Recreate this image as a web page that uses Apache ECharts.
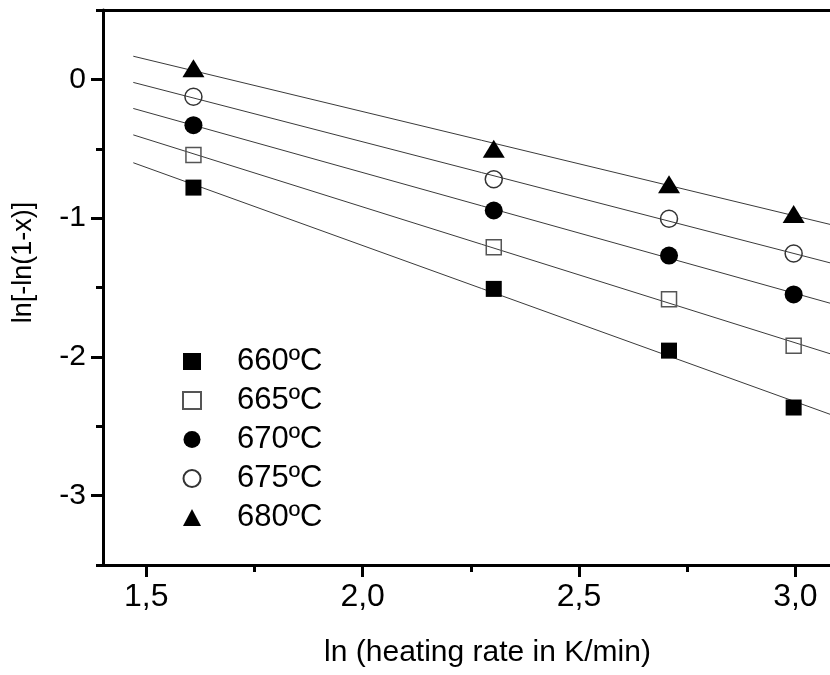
<!DOCTYPE html>
<html>
<head>
<meta charset="utf-8">
<script src="https://cdn.jsdelivr.net/npm/echarts@6/dist/echarts.min.js"></script>
<style>
html,body{margin:0;padding:0;background:#fff;}
#chart{width:830px;height:675px;}
</style>
</head>
<body>
<div id="chart"></div>
<script>
// ---- data ----
var xValues = [1.609, 2.303, 2.708, 2.996];           // ln(5), ln(10), ln(15), ln(20)
var seriesNames = ['660ºC', '665ºC', '670ºC', '675ºC', '680ºC'];
var y660 = [-0.78, -1.51, -1.955, -2.365];
var y665 = [-0.545, -1.21, -1.585, -1.92];
var y670 = [-0.33, -0.945, -1.27, -1.55];
var y675 = [-0.125, -0.72, -1.005, -1.255];
var y680 = [0.08, -0.50, -0.755, -0.97];
var xMajorTicks = [1.5, 2.0, 2.5, 3.0];
var xMinorTicks = [1.75, 2.25, 2.75];
var yMajorTicks = [0, -1, -2, -3];
var yMinorTicks = [0.5, -0.5, -1.5, -2.5, -3.5];
var fitRange = [1.47, 3.08];

var allY = [y660, y665, y670, y675, y680];

function fit(xs, ys) {
  var n = xs.length, sx = 0, sy = 0, sxx = 0, sxy = 0;
  for (var i = 0; i < n; i++) { sx += xs[i]; sy += ys[i]; sxx += xs[i]*xs[i]; sxy += xs[i]*ys[i]; }
  var b = (n*sxy - sx*sy) / (n*sxx - sx*sx);
  var a = (sy - b*sx) / n;
  return {a: a, b: b};
}

var FONT = '"Liberation Sans", Arial, Helvetica, sans-serif';
var symbols = [
  {symbol: 'rect', size: 16, style: {color: '#000', opacity: 1}},
  {symbol: 'rect', size: 15, style: {color: 'rgba(255,255,255,0)', borderColor: '#555', borderWidth: 1.5, opacity: 1}},
  {symbol: 'circle', size: 18, style: {color: '#000', opacity: 1}},
  {symbol: 'circle', size: 17, style: {color: 'rgba(255,255,255,0)', borderColor: '#333', borderWidth: 1.5, opacity: 1}},
  {symbol: 'triangle', size: [22, 18], style: {color: '#000', opacity: 1}}
];

var series = [];
allY.forEach(function (ys, k) {
  var f = fit(xValues, ys);
  series.push({
    type: 'line',
    name: seriesNames[k] + ' fit',
    data: fitRange.map(function (x) { return [x, f.a + f.b * x]; }),
    showSymbol: false,
    symbol: 'none',
    silent: true,
    lineStyle: {color: '#3a3a3a', width: 1},
    z: 2
  });
});
allY.forEach(function (ys, k) {
  series.push({
    type: 'scatter',
    name: seriesNames[k],
    data: xValues.map(function (x, i) { return [x, ys[i]]; }),
    symbol: symbols[k].symbol,
    symbolSize: symbols[k].size,
    itemStyle: symbols[k].style,
    z: 3
  });
});

var fmt = function (v) { return (Math.round(v * 10) / 10).toFixed(1).replace('.', ','); };

var grid = {left: 103, top: 10, right: 0, height: 555, containLabel: false};

var option = {
  animation: false,
  backgroundColor: '#fff',
  grid: grid,
  legend: {
    data: seriesNames,
    orient: 'vertical',
    left: 177,
    top: 341,
    itemWidth: 18,
    itemHeight: 17,
    itemGap: 8,
    textStyle: {fontFamily: FONT, fontSize: 31, color: '#000', padding: [0, 0, 0, 31]},
    inactiveColor: '#000'
  },
  xAxis: [
    {
      type: 'value', min: 1.4, max: 3.08, position: 'bottom',
      name: 'ln (heating rate in K/min)', nameLocation: 'middle', nameGap: 73,
      nameTextStyle: {fontFamily: FONT, fontSize: 30, color: '#000', padding: [0, 0, 0, 42]},
      axisLine: {show: true, onZero: false, lineStyle: {color: '#000', width: 3}},
      axisTick: {show: true, inside: false, length: 12, lineStyle: {width: 3, color: '#000'}, customValues: xMajorTicks},
      axisLabel: {show: true, margin: 16, fontFamily: FONT, fontSize: 32, color: '#000', customValues: xMajorTicks, formatter: fmt},
      splitLine: {show: false}
    },
    {
      type: 'value', min: 1.4, max: 3.08, position: 'bottom', gridIndex: 0,
      axisLine: {show: false, onZero: false},
      axisTick: {show: true, inside: false, length: 7, lineStyle: {width: 3, color: '#000'}, customValues: xMinorTicks},
      axisLabel: {show: false},
      splitLine: {show: false}
    },
    {
      type: 'value', min: 1.4, max: 3.08, position: 'top', gridIndex: 0,
      axisLine: {show: true, onZero: false, lineStyle: {color: '#000', width: 3}},
      axisTick: {show: false}, axisLabel: {show: false}, splitLine: {show: false}
    }
  ],
  yAxis: [
    {
      type: 'value', min: -3.5, max: 0.5, position: 'left',
      name: 'ln[-ln(1-x)]', nameLocation: 'middle', nameGap: 66, nameRotate: 90,
      nameTextStyle: {fontFamily: FONT, fontSize: 27, color: '#000', padding: [0, 0, 0, 50]},
      axisLine: {show: true, onZero: false, lineStyle: {color: '#000', width: 3}},
      axisTick: {show: true, inside: false, length: 12, lineStyle: {width: 3, color: '#000'}, customValues: yMajorTicks},
      axisLabel: {show: true, margin: 17, fontFamily: FONT, fontSize: 30, color: '#000', customValues: yMajorTicks,
        formatter: function (v) { return String(Math.round(v)); }},
      splitLine: {show: false}
    },
    {
      type: 'value', min: -3.5, max: 0.5, position: 'left', gridIndex: 0,
      axisLine: {show: false, onZero: false},
      axisTick: {show: true, inside: false, length: 7, lineStyle: {width: 3, color: '#000'}, customValues: yMinorTicks},
      axisLabel: {show: false},
      splitLine: {show: false}
    }
  ],
  series: series
};

var chart = echarts.init(document.getElementById('chart'), null, {renderer: 'canvas'});
chart.setOption(option);
</script>
</body>
</html>
